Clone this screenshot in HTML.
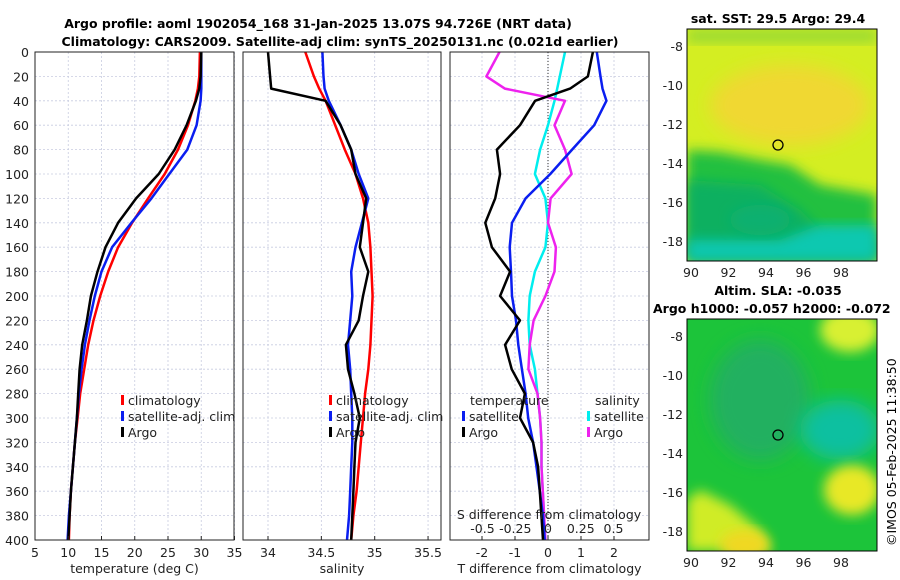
<!DOCTYPE html>
<html><head><meta charset="utf-8"><style>
body{margin:0;background:#fff;}
svg{display:block;font-family:"DejaVu Sans","Liberation Sans",sans-serif;}
</style></head><body>
<svg id="c" width="900" height="580" viewBox="0 0 900 580" xmlns="http://www.w3.org/2000/svg">
<defs>
<filter id="bl" x="-20%" y="-20%" width="140%" height="140%"><feGaussianBlur stdDeviation="9"/></filter>
<filter id="bl2" x="-20%" y="-20%" width="140%" height="140%"><feGaussianBlur stdDeviation="6"/></filter>
<clipPath id="m1"><rect x="687" y="29" width="190" height="232"/></clipPath>
<clipPath id="m2"><rect x="687" y="319" width="190" height="232"/></clipPath>
</defs>
<text x="318" y="28" text-anchor="middle" font-size="12.5" font-weight="bold">Argo profile: aoml 1902054_168 31-Jan-2025 13.07S 94.726E (NRT data)</text>
<text x="340" y="46" text-anchor="middle" font-size="12.5" font-weight="bold">Climatology: CARS2009. Satellite-adj clim: synTS_20250131.nc (0.021d earlier)</text>
<g id="g"></g>
<!-- map 1 -->
<g clip-path="url(#m1)">
<rect x="687" y="29" width="190" height="232" fill="#d4ee22"/>
<ellipse cx="790" cy="105" rx="80" ry="40" fill="#f0d830" filter="url(#bl)"/>
<rect x="687" y="29" width="190" height="14" fill="#9ada30" filter="url(#bl2)"/>
<path d="M687 150 L720 152 L760 160 L790 165 L820 185 L877 195 L877 261 L687 261 Z" fill="#22c040" filter="url(#bl2)"/>
<path d="M687 180 L760 185 L800 210 L830 240 L877 235 L877 261 L687 261 Z" fill="#10b060" filter="url(#bl2)"/>
<path d="M687 240 L780 240 L820 225 L877 225 L877 261 L687 261 Z" fill="#10c8b0" filter="url(#bl2)"/>
<ellipse cx="760" cy="220" rx="30" ry="15" fill="#10b070" filter="url(#bl2)"/>
</g>
<rect x="687" y="29" width="190" height="232" fill="none" stroke="#000" stroke-width="1"/>
<circle cx="778" cy="145" r="5" fill="none" stroke="#000" stroke-width="1.3"/>
<text x="778" y="23" text-anchor="middle" font-size="12.5" font-weight="bold">sat. SST: 29.5 Argo: 29.4</text>
<!-- map 2 -->
<g clip-path="url(#m2)">
<rect x="687" y="319" width="190" height="232" fill="#1cc43a"/>
<ellipse cx="760" cy="400" rx="50" ry="60" fill="#20b060" filter="url(#bl)"/>
<ellipse cx="840" cy="430" rx="40" ry="30" fill="#10c0a0" filter="url(#bl)"/>
<ellipse cx="850" cy="330" rx="30" ry="22" fill="#d8f030" filter="url(#bl2)"/>
<ellipse cx="852" cy="490" rx="28" ry="25" fill="#e8e828" filter="url(#bl2)"/>
<path d="M687 500 L700 490 L730 505 L760 530 L770 551 L687 551 Z" fill="#d0ec28" filter="url(#bl2)"/>
<ellipse cx="745" cy="545" rx="25" ry="15" fill="#f0d820" filter="url(#bl2)"/>
</g>
<rect x="687" y="319" width="190" height="232" fill="none" stroke="#000" stroke-width="1"/>
<circle cx="778" cy="435" r="5" fill="none" stroke="#000" stroke-width="1.3"/>
<text x="778" y="295" text-anchor="middle" font-size="12.5" font-weight="bold">Altim. SLA: -0.035</text>
<text x="653" y="313" font-size="12.5" font-weight="bold">Argo h1000: -0.057 h2000: -0.072</text>
<text transform="translate(896,546) rotate(-90)" font-size="12.5">©IMOS 05-Feb-2025 11:38:50</text>
</svg>
<script>
// ---- data ----
const depths=[0,20,30,40,60,80,100,120,140,160,180,200,220,240,260,280,300,320,340,360,380,400];
const depthTicks=[0,20,40,60,80,100,120,140,160,180,200,220,240,260,280,300,320,340,360,380,400];
const tClim=[29.8,29.7,29.5,29.1,28.0,26.5,24.5,22.0,19.6,17.5,16.0,14.8,13.8,13.0,12.4,11.8,11.4,11.0,10.7,10.4,10.2,10.1];
const tSat=[30.0,30.0,30.0,29.9,29.3,27.9,25.2,22.5,19.5,16.6,15.0,14.0,13.2,12.5,12.0,11.6,11.3,11.0,10.7,10.4,10.1,9.9];
const tArgo=[30.0,29.9,29.7,29.2,27.8,26.0,23.6,20.2,17.5,15.6,14.4,13.4,12.8,12.1,11.7,11.5,11.3,11.0,10.7,10.4,10.2,10.0];
const sClim=[34.35,34.43,34.48,34.54,34.63,34.72,34.82,34.89,34.94,34.96,34.97,34.98,34.97,34.96,34.94,34.91,34.89,34.87,34.85,34.83,34.80,34.78];
const sSat=[34.51,34.52,34.53,34.57,34.68,34.78,34.85,34.94,34.88,34.82,34.78,34.79,34.77,34.75,34.77,34.78,34.79,34.79,34.78,34.77,34.76,34.74];
const sArgo=[34.00,34.02,34.03,34.54,34.68,34.78,34.82,34.92,34.89,34.86,34.94,34.89,34.85,34.73,34.75,34.81,34.86,34.82,34.81,34.80,34.79,34.78];
const dtSat=[1.48,1.59,1.65,1.77,1.40,0.73,0.07,-0.68,-1.09,-1.16,-1.12,-1.09,-0.97,-0.9,-0.79,-0.68,-0.6,-0.45,-0.35,-0.25,-0.15,-0.1];
const dtArgo=[1.36,1.21,0.67,-0.39,-0.85,-1.55,-1.45,-1.6,-1.9,-1.7,-1.15,-1.45,-0.85,-1.3,-1.1,-0.7,-0.85,-0.45,-0.3,-0.25,-0.2,-0.15];
const dsSat=[0.13,0.09,0.07,0.05,0,-0.06,-0.10,-0.02,0,-0.02,-0.10,-0.14,-0.15,-0.14,-0.10,-0.08,-0.06,-0.05,-0.05,-0.04,-0.03,-0.03];
const dsArgo=[-0.37,-0.47,-0.33,0.13,0.05,0.13,0.18,0.02,0,0.06,0.05,-0.02,-0.11,-0.14,-0.15,-0.08,-0.06,-0.05,-0.05,-0.04,-0.03,-0.02];
const tTicks=[5,10,15,20,25,30,35];
const sTicks=[34,34.5,35,35.5];
const dtTicks=[-2,-1,0,1,2];
const dsTicks=[-0.5,-0.25,0,0.25,0.5];
const lonTicks=[90,92,94,96,98];
const latTicks=[-8,-10,-12,-14,-16,-18];
// ---- scales ----
const Y=d=>52+d*1.22;
const X1=v=>35+(v-5)*6.65;
const X2=v=>268+(v-34)*106.7;
const X3=v=>548+v*33;
const X3s=v=>548+v*131;
const LON=v=>691+(v-90)*18.75;
const LAT1=v=>46+(-8-v)*19.5;
const LAT2=v=>336+(-8-v)*19.5;
const NS="http://www.w3.org/2000/svg";
const g=document.getElementById('g');
function el(t,a,p){const e=document.createElementNS(NS,t);for(const k in a)e.setAttribute(k,a[k]);(p||g).appendChild(e);return e;}
function txt(x,y,s,anchor,size){const e=el('text',{x:x,y:y,'text-anchor':anchor||'middle','font-size':size||12.5,fill:'#222'});e.textContent=s;return e;}
const panels=[{x0:35,x1:234,ticks:tTicks,X:X1,lab:'temperature (deg C)',name:'temperature-panel'},
{x0:243,x1:441,ticks:sTicks,X:X2,lab:'salinity',name:'salinity-panel'},
{x0:450,x1:649,ticks:dtTicks,X:X3,lab:'T difference from climatology',name:'difference-panel'}];
panels.forEach((p,i)=>{
 const pg=el('g',{});
 
 
 el('rect',{x:p.x0,y:52,width:p.x1-p.x0,height:488,fill:'#fff'},pg);
 depthTicks.forEach(d=>{const l=el('line',{x1:p.x0,x2:p.x1,y1:Y(d),y2:Y(d),stroke:'#c8cce0','stroke-width':0.8,'stroke-dasharray':'2,2'},pg);
  });
 p.ticks.forEach(t=>{const x=p.X(t);el('line',{x1:x,x2:x,y1:52,y2:540,stroke:'#c8cce0','stroke-width':0.8,'stroke-dasharray':'2,2'},pg);
  const lb=txt(x,557,String(t));});
 const xl=txt((p.x0+p.x1)/2,573,p.lab);
 
 
});
depthTicks.forEach(d=>{const lb=txt(29,Y(d)+5,String(d),'end');});
el('line',{x1:X3s(0),x2:X3s(0),y1:52,y2:540,stroke:'#333','stroke-width':1,'stroke-dasharray':'1,2'});
function line(xs,X,col,name){
 const pts=xs.map((v,i)=>X(v).toFixed(1)+','+Y(depths[i]).toFixed(1)).join(' ');
 const e=el('polyline',{points:pts,fill:'none',stroke:col,'stroke-width':2.5,'stroke-linejoin':'round'});
 
 
}
line(tClim,X1,'#ff0000','temp-climatology-line');
line(tSat,X1,'#0a1ef0','temp-satellite-line');
line(tArgo,X1,'#000','temp-argo-line');
line(sClim,X2,'#ff0000','sal-climatology-line');
line(sSat,X2,'#0a1ef0','sal-satellite-line');
line(sArgo,X2,'#000','sal-argo-line');
line(dsSat,X3s,'#00eeee','sdiff-satellite-line');
line(dsArgo,X3s,'#ee22ee','sdiff-argo-line');
line(dtSat,X3,'#0a1ef0','tdiff-satellite-line');
line(dtArgo,X3,'#000','tdiff-argo-line');
dsTicks.forEach(t=>{const lb=txt(X3s(t),533,String(t));});
const sl=txt(549,519,'S difference from climatology');


panels.forEach(p=>{el('rect',{x:p.x0,y:52,width:p.x1-p.x0,height:488,fill:'none',stroke:'#222','stroke-width':1});
 p.ticks.forEach(t=>{el('line',{x1:p.X(t),x2:p.X(t),y1:540,y2:536,stroke:'#222'});});});
function leg(x,y,col,s,name){el('rect',{x:x,y:y-10,width:3,height:10,fill:col});
 const t=txt(x+7,y,s,'start');}
leg(121,405,'#ff0000','climatology','legend-climatology');
leg(121,421,'#0a1ef0','satellite-adj. clim','legend-satellite');
leg(121,437,'#000','Argo','legend-argo');
leg(329,405,'#ff0000','climatology','legend2-climatology');
leg(329,421,'#0a1ef0','satellite-adj. clim','legend2-satellite');
leg(329,437,'#000','Argo','legend2-argo');
txt(470,405,'temperature','start');
leg(462,421,'#0a1ef0','satellite','legend-tdiff-satellite');
leg(462,437,'#000','Argo','legend-tdiff-argo');
txt(595,405,'salinity','start');
leg(587,421,'#00eeee','satellite','legend-sdiff-satellite');
leg(587,437,'#ee22ee','Argo','legend-sdiff-argo');
[[LAT1,261],[LAT2,551]].forEach(([LAT,yb])=>{
 lonTicks.forEach(v=>{el('line',{x1:LON(v),x2:LON(v),y1:yb,y2:yb-3,stroke:'#000'});
  const lb=txt(LON(v),yb+16,String(v));});
 latTicks.forEach(v=>{el('line',{x1:877,x2:873,y1:LAT(v),y2:LAT(v),stroke:'#000'});
  const lb=txt(683,LAT(v)+5,String(v),'end');});
});
</script>
</body></html>
